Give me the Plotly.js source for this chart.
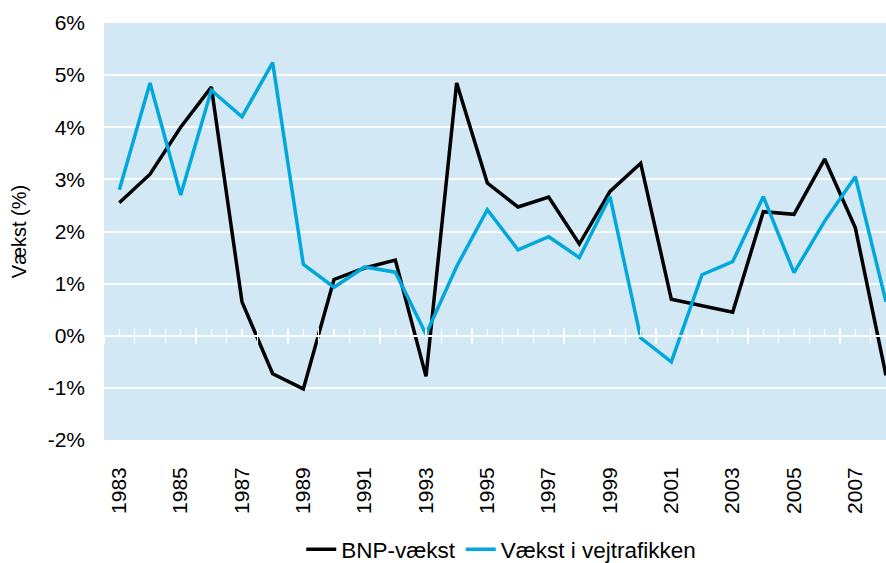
<!DOCTYPE html>
<html><head><meta charset="utf-8">
<script src="https://cdn.plot.ly/plotly-3.0.1.min.js"></script>
<style>html,body{margin:0;padding:0;overflow:hidden;background:#fff}</style>
</head><body>
<div id="chart" style="width:886px;height:563px"></div>
<script>
const years = [1983,1984,1985,1986,1987,1988,1989,1990,1991,1992,1993,1994,1995,1996,1997,1998,1999,2000,2001,2002,2003,2004,2005,2006,2007,2008];
const bnp = [2.55,3.1,4.0,4.77,0.65,-0.73,-1.02,1.08,1.3,1.45,-0.78,4.85,2.93,2.47,2.66,1.76,2.77,3.31,0.7,0.58,0.45,2.38,2.33,3.39,2.07,-0.76];
const vej = [2.8,4.85,2.7,4.71,4.2,5.24,1.37,0.93,1.32,1.22,0.03,1.33,2.42,1.65,1.9,1.5,2.67,-0.04,-0.5,1.17,1.42,2.67,1.21,2.2,3.05,0.65];
const tickYears = [1983,1985,1987,1989,1991,1993,1995,1997,1999,2001,2003,2005,2007];
const yTicks = [-2,-1,0,1,2,3,4,5,6];
const yLabels = yTicks.map(v => v + '%');

const fam = 'Liberation Sans, Arial, sans-serif';
const tickFont = {family: fam, size: 21, color: '#000'};
const legFont = {family: fam, size: 22.5, color: '#000'};
const titleFont = {family: fam, size: 20, color: '#000'};
const traces = [
  {x: years, y: bnp, name: 'BNP-vækst', type: 'scatter', mode: 'lines', line: {color: '#000000', width: 3.5}},
  {x: years, y: vej, name: 'Vækst i vejtrafikken', type: 'scatter', mode: 'lines', line: {color: '#00A8DC', width: 3.5}}
];
const xr = [1982.5, 2008];
const layout = {
  width: 886, height: 563,
  margin: {l: 104, r: 0, t: 23, b: 123, autoexpand: false},
  paper_bgcolor: '#ffffff',
  plot_bgcolor: '#D3E8F5',
  font: tickFont,
  showlegend: true,
  legend: {orientation: 'h', x: 0.508, xanchor: 'center', y: -0.263, yanchor: 'middle', font: legFont, bgcolor: 'rgba(0,0,0,0)', itemwidth: 30, tracegroupgap: 0},
  xaxis: {range: xr, automargin: false, tickmode: 'array', tickvals: tickYears, ticktext: tickYears.map(String), tickangle: -90,
          showgrid: false, zeroline: false, showline: false, ticks: '', ticklabelstandoff: 22, tickfont: tickFont},
  xaxis2: {range: xr, automargin: false, overlaying: 'x', anchor: 'free', position: 0.25, showticklabels: false, showgrid: false, zeroline: false,
           showline: true, linecolor: '#ffffff', linewidth: 2, ticks: 'inside', tickmode: 'linear', tick0: 1982.5, dtick: 1,
           ticklen: 7, tickwidth: 1.5, tickcolor: '#ffffff',
           minor: {tick0: 1983, dtick: 1, ticklen: 6, tickwidth: 1.5, tickcolor: '#ffffff', ticks: 'inside', showgrid: false}},
  xaxis3: {range: xr, automargin: false, overlaying: 'x', anchor: 'free', position: 0.25, showticklabels: false, showgrid: false, zeroline: false,
           showline: false, ticks: 'outside', tickmode: 'linear', tick0: 1982.5, dtick: 1, ticklen: 7, tickwidth: 1.5, tickcolor: '#ffffff'},
  yaxis: {range: [-2, 6], automargin: false, tickmode: 'array', tickvals: yTicks, ticktext: yLabels, showgrid: true, gridcolor: '#ffffff', gridwidth: 2,
          zeroline: false, showline: false, ticks: '', ticklabelstandoff: 18, tickfont: tickFont,
          title: {text: 'Vækst (%)', font: titleFont, standoff: 15}}
};
traces.push({x: [years[0]], y: [null], xaxis: 'x2', showlegend: false, hoverinfo: 'skip', type: 'scatter', mode: 'lines'});
traces.push({x: [years[0]], y: [null], xaxis: 'x3', showlegend: false, hoverinfo: 'skip', type: 'scatter', mode: 'lines'});
Plotly.newPlot('chart', traces, layout, {displayModeBar: false, staticPlot: true});
</script>
</body></html>
